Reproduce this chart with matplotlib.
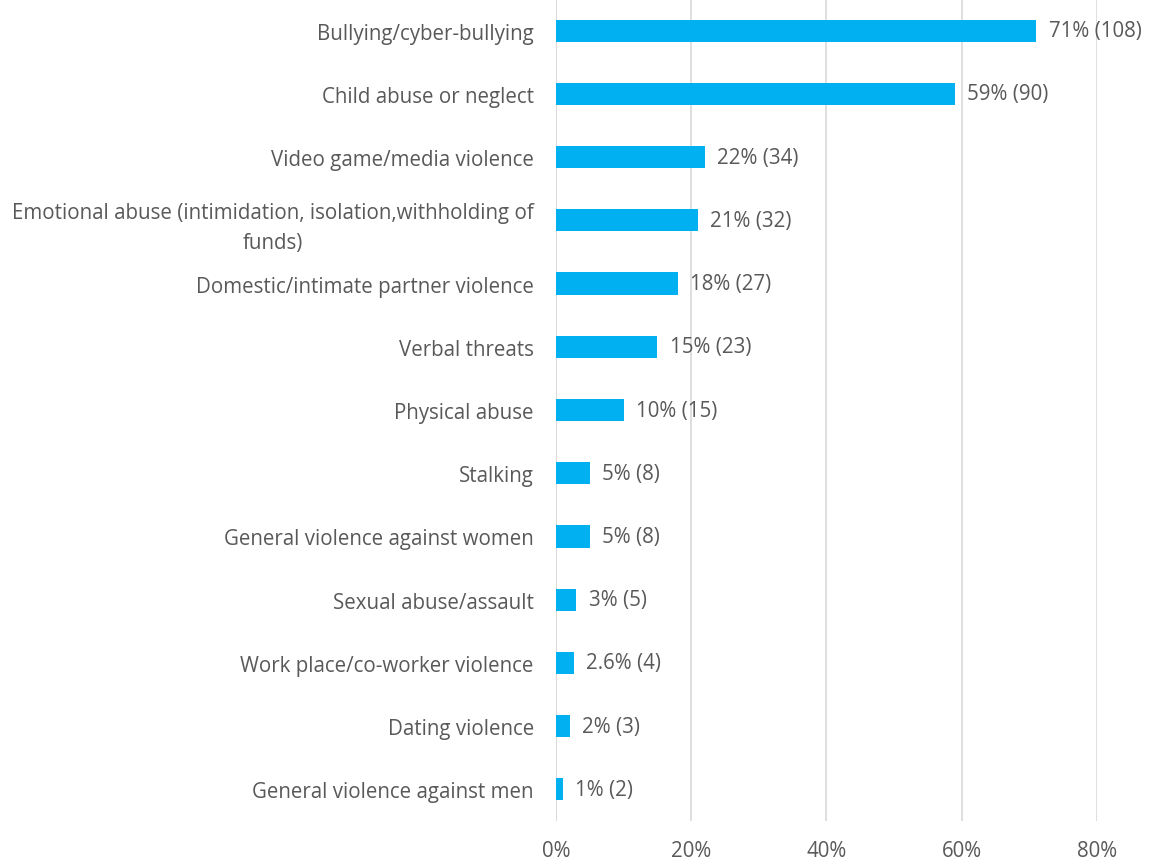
import matplotlib
matplotlib.use("Agg")
import matplotlib.pyplot as plt

plt.rcParams["font.family"] = ["Open Sans", "DejaVu Sans"]

categories = [
    "Bullying/cyber-bullying",
    "Child abuse or neglect",
    "Video game/media violence",
    "Emotional abuse (intimidation, isolation,withholding of\nfunds)",
    "Domestic/intimate partner violence",
    "Verbal threats",
    "Physical abuse",
    "Stalking",
    "General violence against women",
    "Sexual abuse/assault",
    "Work place/co-worker violence",
    "Dating violence",
    "General violence against men",
]
percents = [71, 59, 22, 21, 18, 15, 10, 5, 5, 3, 2.6, 2, 1]
counts = [108, 90, 34, 32, 27, 23, 15, 8, 8, 5, 4, 3, 2]
xticks = [0, 20, 40, 60, 80]

text_grey = "#595959"
bar_blue = "#00b0f0"
fsize = 14.8

fig = plt.figure(figsize=(11.53, 8.62), dpi=100)
ax = fig.add_axes([0.4822, 0.0464, 0.4692, 0.9536])

ypos = list(range(len(categories)))
ax.barh(ypos, percents, height=0.35, color=bar_blue, zorder=3)

for y, p, c in zip(ypos, percents, counts):
    label = f"{p:g}% ({c})"
    ax.annotate(label, xy=(p, y), xytext=(9, 0), textcoords="offset points",
                va="center", ha="left", fontsize=fsize, color=text_grey,
                annotation_clip=False)

ax.set_xlim(0, 80)
ax.set_ylim(len(categories) - 0.5, -0.5)
ax.set_xticks(xticks)
ax.set_xticklabels([f"{t}%" for t in xticks])
ax.set_yticks(ypos)
ax.set_yticklabels(categories, multialignment="center", linespacing=1.6)

ax.grid(axis="x", color="#d9d9d9", linewidth=1.2, zorder=0)
for s in ax.spines.values():
    s.set_visible(False)
ax.axvline(0, color="#d9d9d9", linewidth=1.2, zorder=1)

ax.tick_params(axis="x", length=0, pad=14, labelsize=fsize, labelcolor=text_grey)
ax.tick_params(axis="y", length=0, pad=16, labelsize=fsize, labelcolor=text_grey)

fig.savefig("out.png", dpi=100)
